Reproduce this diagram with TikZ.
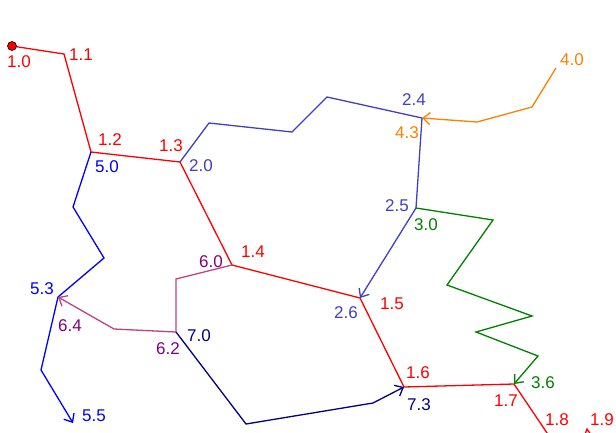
\documentclass[tikz,border=0pt]{standalone}
\usepackage{fontspec}
\setmainfont{Liberation Sans}
\usetikzlibrary{arrows.meta}
\definecolor{lnA}{RGB}{255,0,0}
\definecolor{lnB}{RGB}{64,64,192}
\definecolor{lnC}{RGB}{0,128,0}
\definecolor{lnD}{RGB}{255,128,0}
\definecolor{lnE}{RGB}{0,0,255}
\definecolor{lnF}{RGB}{192,64,128}
\definecolor{txF}{RGB}{128,0,128}
\definecolor{lnG}{RGB}{0,0,128}

\begin{document}
\begin{tikzpicture}[x=1pt,y=-1pt,line width=1.3pt,
  >={Straight Barb[length=7pt,width=12pt]},
  lbl/.style={font=\fontsize{17}{19}\selectfont,inner sep=0pt}]
\useasboundingbox (0,0) rectangle (616,432);
\clip (0,0) rectangle (616,432);
% ---------- 顶点（像素坐标，y 向下） ----------
% 1.x
\coordinate (p10) at (12,46);   \coordinate (p11) at (64,54);
\coordinate (p12) at (91,152);  \coordinate (p13) at (180,162);
\coordinate (p14) at (232,265); \coordinate (p15) at (360,298);
\coordinate (p16) at (404,387); \coordinate (p17) at (514,384);
\coordinate (p18) at (572,470); \coordinate (p19) at (587,429);
\coordinate (p110) at (603,452);
% 2.x
\coordinate (p21) at (209,123); \coordinate (p22) at (292,132);
\coordinate (p23) at (327,97);  \coordinate (p24) at (422,118);
\coordinate (p25) at (416,208);
% 3.x
\coordinate (p31) at (493,220); \coordinate (p32) at (447,285);
\coordinate (p33) at (532,316); \coordinate (p34) at (476,332);
\coordinate (p35) at (538,356);
% 4.x
\coordinate (p40) at (556,68);  \coordinate (p41) at (532,107);
\coordinate (p42) at (477,122);
% 5.x
\coordinate (p51) at (73,207);  \coordinate (p52) at (104,258);
\coordinate (p53) at (58,297);  \coordinate (p54) at (41,370);
\coordinate (p55) at (73,423);
% 6.x / 7.x
\coordinate (p61) at (176,279); \coordinate (p62) at (176,332);
\coordinate (p63) at (114,329);
\coordinate (p71) at (246,424); \coordinate (p72) at (373,403);
% 共用顶点
\coordinate (p20) at (p13);
\coordinate (p26) at (p15);
\coordinate (p30) at (p25);
\coordinate (p36) at (p17);
\coordinate (p43) at (p24);
\coordinate (p50) at (p12);
\coordinate (p60) at (p14);
\coordinate (p64) at (p53);
\coordinate (p70) at (p62);
\coordinate (p73) at (p16);
% ---------- 折线 ----------
\draw[lnA] (p10) -- (p11) -- (p12) -- (p13) -- (p14) -- (p15) -- (p16)
      -- (p17) -- (p18) -- (p19) -- (p110);
\draw[lnB,->] (p20) -- (p21) -- (p22) -- (p23) -- (p24) -- (p25) -- (p26);
\draw[lnC,->] (p30) -- (p31) -- (p32) -- (p33) -- (p34) -- (p35) -- (p36);
\draw[lnD,->] (p40) -- (p41) -- (p42) -- (p43);
\draw[lnE,->] (p50) -- (p51) -- (p52) -- (p53) -- (p54) -- (p55);
\draw[lnF,->] (p60) -- (p61) -- (p62) -- (p63) -- (p64);
\draw[lnG,->] (p70) -- (p71) -- (p72) -- (p73);
\fill[lnA,draw=black,line width=0.6pt] (p10) circle (4.5pt);
% ---------- 标号 ----------
\foreach \n/\t/\p in {10/1.0/{(19,62)},11/1.1/{(81,55)},12/1.2/{(110,140)},
                      13/1.3/{(171,146)},14/1.4/{(253,252)},15/1.5/{(392,304)},
                      16/1.6/{(418,373)},17/1.7/{(506,401)},18/1.8/{(557,420)},
                      19/1.9/{(602,420)}}
  \node[lbl,lnA] (l\n) at \p {\t};
\foreach \n/\t/\p in {20/2.0/{(201,166)},24/2.4/{(414,100)},25/2.5/{(397,206)},
                      26/2.6/{(346,313)}}
  \node[lbl,lnB] (l\n) at \p {\t};
\foreach \n/\t/\p in {30/3.0/{(426,225)},36/3.6/{(543,383)}}
  \node[lbl,lnC] (l\n) at \p {\t};
\foreach \n/\t/\p in {40/4.0/{(572,60)},43/4.3/{(407,133)}}
  \node[lbl,lnD] (l\n) at \p {\t};
\foreach \n/\t/\p in {50/5.0/{(107,167)},53/5.3/{(42,289)},55/5.5/{(94,416)}}
  \node[lbl,lnE] (l\n) at \p {\t};
\foreach \n/\t/\p in {60/6.0/{(211,262)},62/6.2/{(168,349)},64/6.4/{(70,326)}}
  \node[lbl,txF] (l\n) at \p {\t};
\foreach \n/\t/\p in {70/7.0/{(199,336)},73/7.3/{(419,405)}}
  \node[lbl,lnG] (l\n) at \p {\t};
\end{tikzpicture}
\end{document}
